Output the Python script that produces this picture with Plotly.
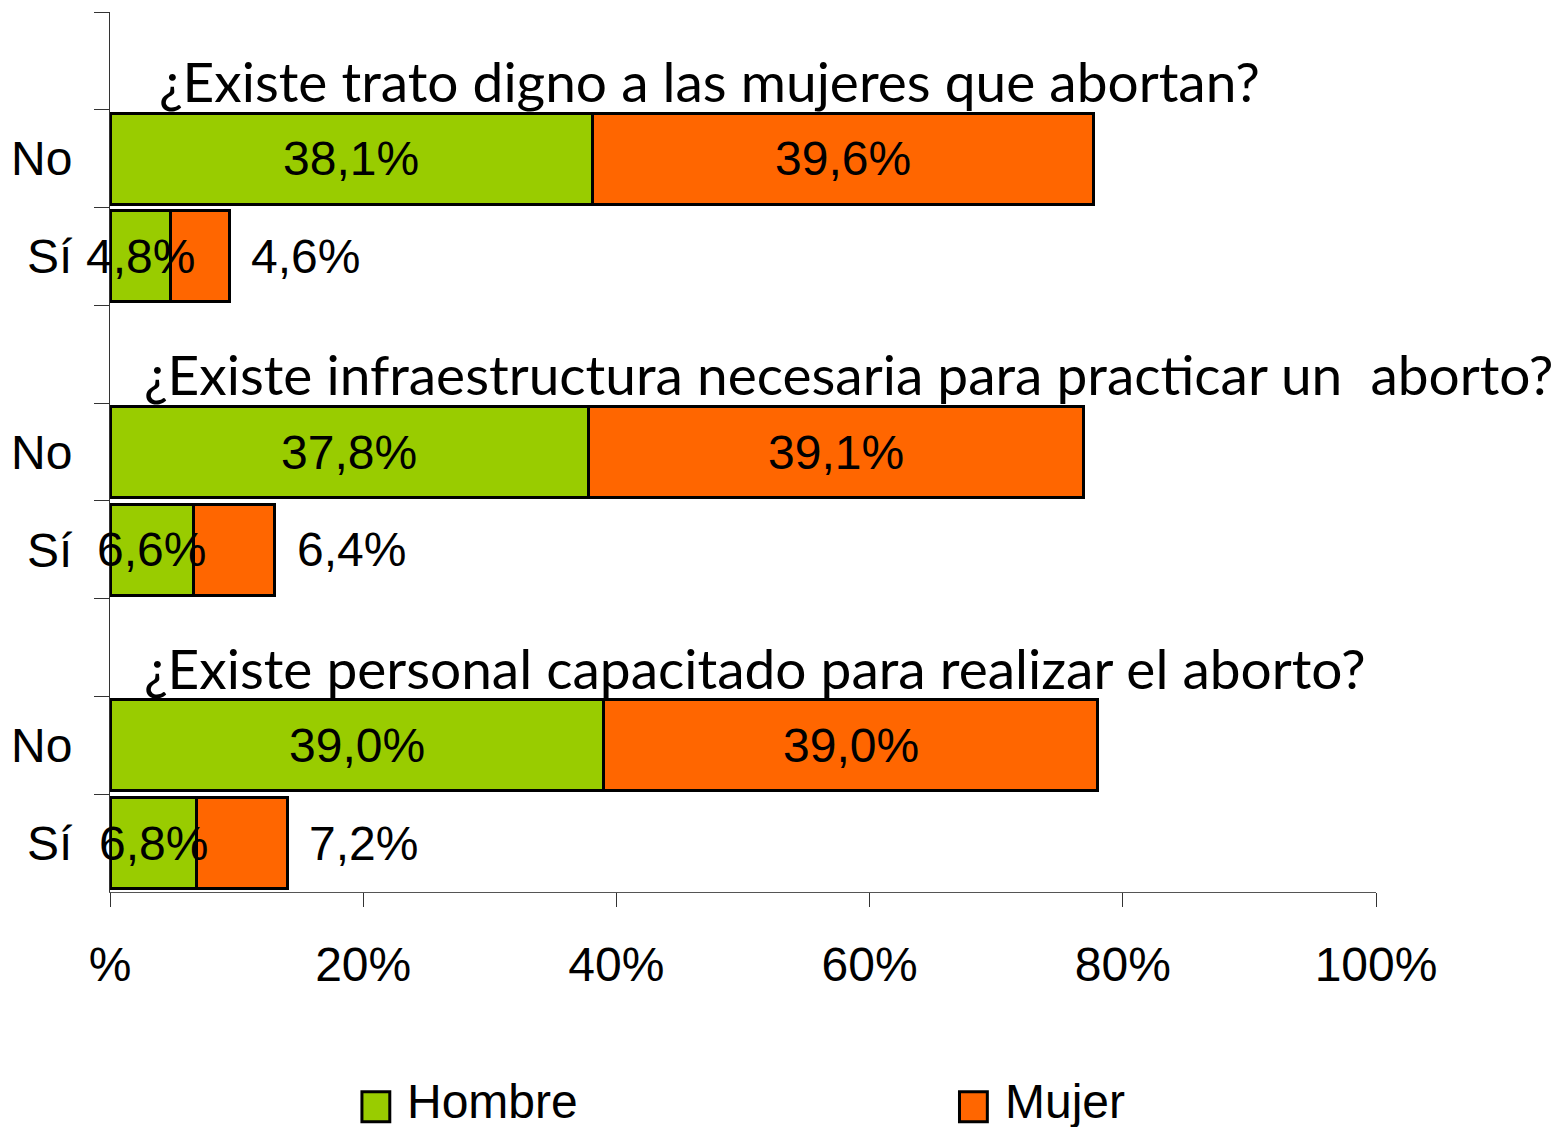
import plotly.graph_objects as go

# ---- data ----
ZW = "\u200b"
row_labels = ["No", "Sí", "No", "Sí", "No", "Sí"]
questions = [
    "¿Existe trato digno a las mujeres que abortan?",
    "¿Existe infraestructura necesaria para practicar un\u00a0 aborto?",
    "¿Existe personal capacitado para realizar el aborto?",
]
hombre = [38.1, 4.8, 37.8, 6.6, 39.0, 6.8]
mujer = [39.6, 4.6, 39.1, 6.4, 39.0, 7.2]
hombre_txt = ["38,1%", "4,8%", "37,8%", "6,6%", "39,0%", "6,8%"]
mujer_txt = ["39,6%", "4,6%", "39,1%", "6,4%", "39,0%", "7,2%"]
x_ticks = [0, 20, 40, 60, 80, 100]
x_ticktext = ["%", "20%", "40%", "60%", "80%", "100%"]
series_names = ["Hombre", "Mujer"]

GREEN = "#99CC00"
ORANGE = "#FF6600"
ARIAL = "Liberation Sans, Arial, sans-serif"
TITLEF = "Lato, Carlito, Calibri, sans-serif"
FS = 48

# build unique category names (zero-width spaces keep labels identical)
cats = []
bar_cats = []
title_cats = []
for g in range(3):
    t = ZW * (g + 1) + ZW * 10
    cats.append(t)
    title_cats.append(t)
    for k in range(2):
        c = row_labels[g * 2 + k] + ZW * g
        cats.append(c)
        bar_cats.append(c)

fig = go.Figure()
fig.add_trace(go.Bar(y=bar_cats, x=hombre, orientation="h", name=series_names[0],
                     marker=dict(color=GREEN, line=dict(color="black", width=3)),
                     showlegend=False, hoverinfo="skip"))
fig.add_trace(go.Bar(y=bar_cats, x=mujer, orientation="h", name=series_names[1],
                     marker=dict(color=ORANGE, line=dict(color="black", width=3)),
                     showlegend=False, hoverinfo="skip"))

ann = []
for i, c in enumerate(bar_cats):
    ann.append(dict(x=hombre[i] / 2, y=c, xref="x", yref="y", text=hombre_txt[i],
                    showarrow=False, font=dict(family=ARIAL, size=FS, color="black"),
                    xanchor="center", yanchor="middle"))
    if row_labels[i] == "No":
        ann.append(dict(x=hombre[i] + mujer[i] / 2, y=c, xref="x", yref="y", text=mujer_txt[i],
                        showarrow=False, font=dict(family=ARIAL, size=FS, color="black"),
                        xanchor="center", yanchor="middle"))
    else:
        ann.append(dict(x=hombre[i] + mujer[i], y=c, xref="x", yref="y", text=mujer_txt[i],
                        showarrow=False, xshift=20, font=dict(family=ARIAL, size=FS, color="black"),
                        xanchor="left", yanchor="middle"))

title_x = [0.037, 0.025, 0.025]
for g, t in enumerate(title_cats):
    ann.append(dict(x=title_x[g], y=t, xref="paper", yref="y", text=questions[g],
                    showarrow=False, yshift=-20,
                    font=dict(family=TITLEF, size=55, color="black"),
                    xanchor="left", yanchor="middle"))

# legend (drawn manually to keep large square keys)
leg_x = [0.199, 0.671]
shapes = []
for j, col in enumerate([GREEN, ORANGE]):
    shapes.append(dict(type="rect", xref="paper", yref="paper",
                       x0=leg_x[j], x1=leg_x[j] + 0.022, y0=-0.261, y1=-0.227,
                       fillcolor=col, line=dict(color="black", width=3)))
    ann.append(dict(x=leg_x[j] + 0.034, y=-0.2375, xref="paper", yref="paper",
                    text=series_names[j], showarrow=False,
                    font=dict(family=ARIAL, size=FS, color="black"),
                    xanchor="left", yanchor="middle"))

fig.update_layout(
    barmode="stack",
    bargap=0.07,
    width=1554, height=1127,
    margin=dict(l=110, r=178, t=12, b=235),
    paper_bgcolor="white", plot_bgcolor="white",
    annotations=ann, shapes=shapes,
    showlegend=False,
)
fig.update_xaxes(range=[0, 100], tickvals=x_ticks, ticktext=x_ticktext,
                 showgrid=False, zeroline=False, showline=True, linecolor="#555555", linewidth=1,
                 ticks="outside", ticklen=14, tickcolor="#333333", tickwidth=1,
                 tickfont=dict(family=ARIAL, size=FS, color="black"),
                 ticklabelstandoff=16, automargin=False)
fig.update_yaxes(type="category", categoryorder="array", categoryarray=cats,
                 range=[8.5, -0.5], tickson="boundaries",
                 showgrid=False, zeroline=False, showline=True, linecolor="#333333", linewidth=1,
                 ticks="outside", ticklen=15, tickcolor="#333333", tickwidth=1,
                 tickfont=dict(family=ARIAL, size=FS, color="black"),
                 ticklabelstandoff=27, automargin=False)

fig.write_html("out.html", config={"displayModeBar": False},
               post_script="document.body.style.margin='0';document.body.style.overflow='hidden';")
